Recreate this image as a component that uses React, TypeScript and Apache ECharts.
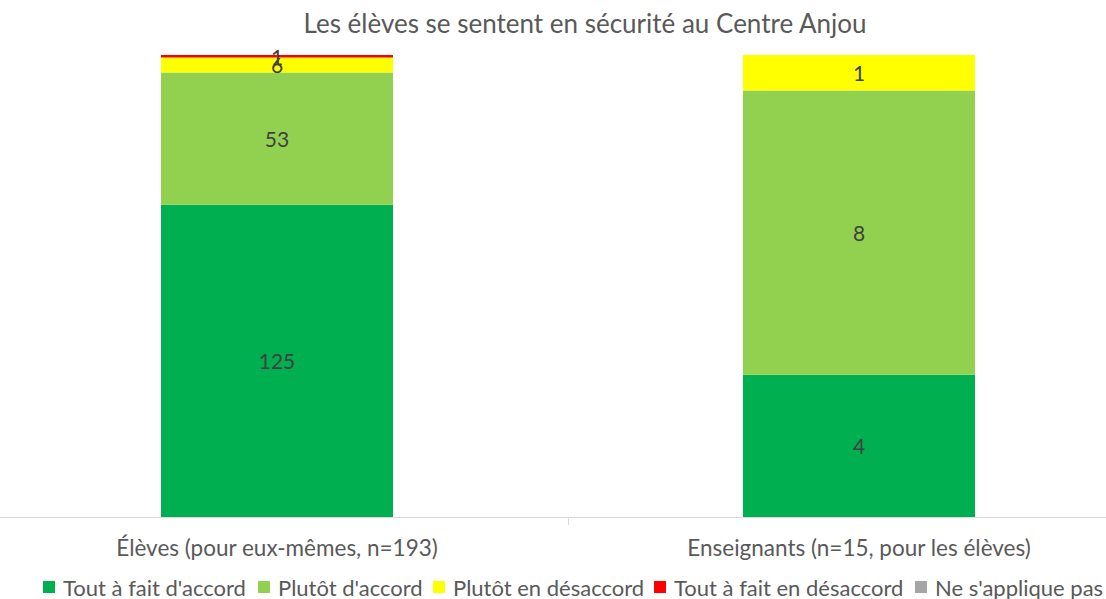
import React, { useEffect, useRef } from "react";
import * as echarts from "echarts";

const categories = ["Élèves (pour eux-mêmes, n=193)", "Enseignants (n=15, pour les élèves)"];
const seriesNames = [
  "Tout à fait d'accord",
  "Plutôt d'accord",
  "Plutôt en désaccord",
  "Tout à fait en désaccord",
  "Ne s'applique pas",
];
const toutAFaitAccord = [125, 4];
const plutotAccord = [53, 8];
const plutotDesaccord = [6, 1];
const toutAFaitDesaccord = [1, 0];
const neSappliquePas = [0, 0];
const colors = ["#00B050", "#92D050", "#FFFF00", "#FF0000", "#A5A5A5"];
const legendIconX = [43, 258, 433, 654, 915];

const FONT = "Lato, 'Liberation Sans', Arial, sans-serif";
const SHIFT = 14; // chart canvas starts 14px left of page

export default function App() {
  const ref = useRef<HTMLDivElement>(null);
  useEffect(() => {
    document.body.style.margin = "0";
    const chart = echarts.init(ref.current!, null, { renderer: "svg" });
    const raw = [toutAFaitAccord, plutotAccord, plutotDesaccord, toutAFaitDesaccord, neSappliquePas];
    const totals = categories.map((_, i) => raw.reduce((s, arr) => s + arr[i], 0));
    chart.setOption({
      animation: false,
      backgroundColor: "#ffffff",
      title: {
        text: "Les élèves se sentent en sécurité au Centre Anjou",
        left: 580 + SHIFT,
        textAlign: "center",
        top: 5,
        textStyle: { fontFamily: FONT, fontSize: 26, fontWeight: "normal", color: "#595959" },
      },
      legend: seriesNames.map((name, i) => ({
        top: 576,
        left: legendIconX[i] + SHIFT,
        padding: 0,
        itemWidth: 12,
        itemHeight: 12,
        icon: "rect",
        textStyle: { fontFamily: FONT, fontSize: 22, color: "#595959", padding: [0, 0, 0, 3] },
        data: [name],
      })),
      grid: { left: 0, right: 0, top: 55, bottom: 82, containLabel: false },
      xAxis: {
        type: "category",
        data: categories,
        axisLine: { lineStyle: { color: "#D9D9D9", width: 1 } },
        axisTick: { show: true, length: 8, lineStyle: { color: "#D9D9D9" } },
        axisLabel: { fontFamily: FONT, fontSize: 22.5, color: "#595959", margin: 19 },
      },
      yAxis: {
        type: "value",
        min: 0,
        max: 100,
        show: false,
        splitLine: { show: false },
      },
      series: raw.map((arr, si) => ({
        name: seriesNames[si],
        type: "bar",
        stack: "total",
        barWidth: 232,
        itemStyle: { color: colors[si] },
        data: arr.map((v, i) => ({ value: (v / totals[i]) * 100, raw: v })),
        label: {
          show: true,
          position: "inside",
          fontFamily: FONT,
          fontSize: 21,
          color: "#404040",
          formatter: (p: any) => (p.data.raw ? String(p.data.raw) : ""),
        },
      })),
    });
    return () => chart.dispose();
  }, []);
  return (
    <div style={{ position: "absolute", left: 0, top: 0, width: 1106, height: 599, overflow: "hidden" }}>
      <div ref={ref} style={{ position: "absolute", left: -SHIFT, top: 0, width: 1106 + 58, height: 599 }} />
    </div>
  );
}
